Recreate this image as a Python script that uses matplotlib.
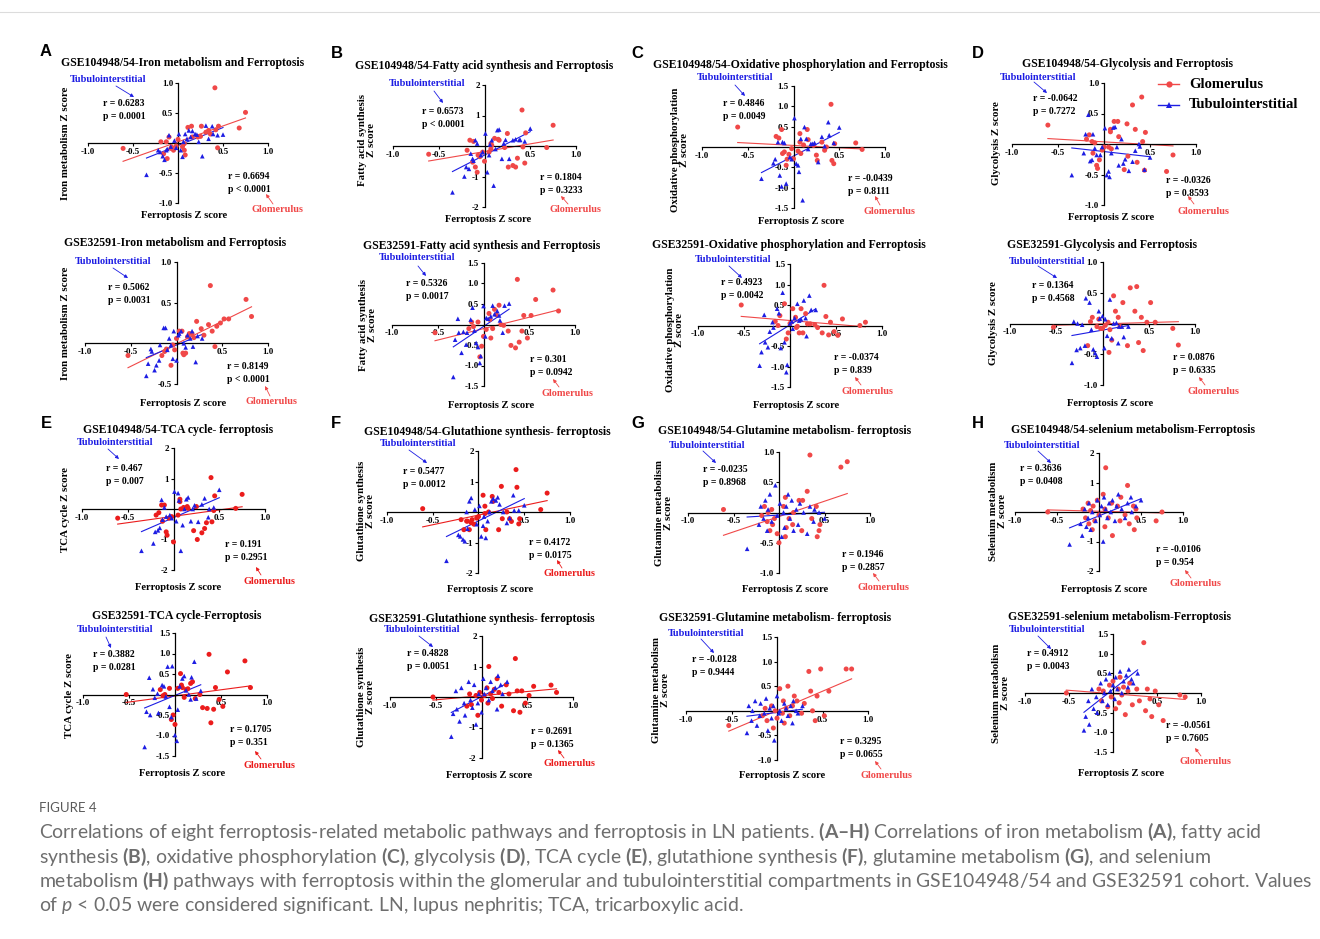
"""
Figure 4 - correlations of ferroptosis-related metabolic pathways with ferroptosis
(glomerulus vs tubulointerstitium, GSE104948/54 and GSE32591)
"""

import numpy as np
import matplotlib.pyplot as plt
from matplotlib.lines import Line2D
from matplotlib.patches import FancyArrowPatch

W, H = 1320, 939
SERIF = ['Liberation Serif', 'DejaVu Serif']
SANS = ['Liberation Sans', 'DejaVu Sans']
RED = '#f04848'
RED_VIVID = '#eb1c1c'
BLUE = '#1d1de3'

# Ferroptosis Z scores (x), shared by all pathways of one cohort / compartment
ferro_glom_104 = [-0.61, -0.19, -0.16, -0.13, -0.12, -0.10, -0.08, -0.07, -0.05, -0.02,
                  0.00, 0.05, 0.07, 0.07, 0.08, 0.11, 0.15, 0.16, 0.22, 0.25,
                  0.26, 0.31, 0.34, 0.36, 0.41, 0.42, 0.44, 0.45, 0.68, 0.75]
ferro_tub_104 = [-0.35, -0.22, -0.20, -0.17, -0.15, -0.13, -0.12, -0.10, -0.08, -0.04,
                 -0.02, 0.01, 0.03, 0.05, 0.06, 0.08, 0.10, 0.12, 0.14, 0.16,
                 0.19, 0.21, 0.23, 0.27, 0.31, 0.34, 0.38, 0.39, 0.44, 0.50]
ferro_glom_325 = [-0.53, -0.16, -0.13, -0.11, -0.06, -0.04, -0.02, 0.00, 0.03, 0.06,
                  0.07, 0.08, 0.10, 0.12, 0.14, 0.17, 0.19, 0.22, 0.27, 0.30,
                  0.35, 0.37, 0.39, 0.42, 0.44, 0.48, 0.52, 0.57, 0.76, 0.82]
ferro_tub_325 = [-0.33, -0.31, -0.28, -0.27, -0.24, -0.22, -0.19, -0.18, -0.14, -0.12,
                 -0.10, -0.08, -0.06, -0.04, -0.03, 0.00, 0.02, 0.03, 0.05, 0.08,
                 0.10, 0.12, 0.15, 0.17, 0.18, 0.21, 0.23, 0.28]

# Pathway Z scores (y)
iron_glom_104 = [-0.09, 0.02, -0.18, 0.02, -0.26, 0.10, -0.09, -0.07, -0.12, -0.05,
                 0.06, -0.06, -0.01, -0.12, -0.20, 0.26, 0.28, 0.10, 0.10, 0.11,
                 0.28, 0.18, 0.21, 0.15, 0.92, 0.22, -0.08, 0.28, 0.25, 0.51]
iron_tub_104 = [-0.53, -0.12, -0.15, -0.22, -0.28, -0.12, -0.10, 0.13, -0.06, 0.04,
                -0.08, 0.15, -0.12, -0.23, 0.02, 0.15, 0.07, 0.21, 0.10, 0.20,
                0.15, 0.14, 0.02, -0.22, 0.29, 0.07, 0.28, 0.15, 0.13, 0.14]
iron_glom_325 = [-0.15, -0.15, -0.10, -0.07, -0.27, -0.02, -0.08, 0.06, 0.15, 0.15,
                 -0.12, -0.14, -0.12, 0.08, 0.12, 0.12, 0.07, 0.27, 0.18, 0.10,
                 0.23, 0.71, 0.15, -0.04, 0.21, 0.25, 0.30, 0.30, 0.54, 0.33]
iron_tub_325 = [-0.40, -0.25, -0.07, -0.10, -0.33, -0.27, -0.21, -0.02, 0.19, 0.19,
                -0.08, 0.06, -0.02, -0.19, 0.15, -0.21, 0.10, 0.12, 0.15, 0.00,
                -0.05, 0.10, 0.06, 0.15, -0.04, -0.23, 0.09, 0.06]

fatty_glom_104 = [-0.27, -0.14, 0.19, -0.53, 0.15, -0.69, -0.86, -0.30, -0.35, -0.20,
                  -0.50, -0.20, 0.08, -0.10, 0.02, 0.25, 0.22, 0.19, -0.05, 0.41,
                  -0.69, -0.64, -0.69, -0.40, 1.18, -0.03, -0.56, 0.43, -0.05, 0.68]
fatty_tub_104 = [-1.52, -1.00, -0.69, -0.75, -0.25, -0.42, -0.48, 0.19, 0.08, -0.30,
                 -0.20, 0.41, -0.86, -0.30, 0.05, 0.19, -1.30, -0.10, 0.52, 0.54,
                 -0.42, 0.08, 0.20, -0.42, 0.19, 0.22, 0.20, 0.20, 0.15, 0.57]
fatty_glom_325 = [-0.20, -0.10, 0.06, -0.05, 0.06, -0.79, -0.53, -0.29, -0.12, 0.27,
                  0.12, -0.33, -0.10, 0.37, 0.24, 0.47, 0.00, -0.02, -0.16, -0.51,
                  -0.57, 1.10, -0.43, -0.16, 0.22, -0.33, 0.22, 0.61, 0.84, 0.33]
fatty_tub_325 = [-1.28, -0.37, 0.14, -0.20, -0.69, -0.18, -0.49, -0.20, 0.12, 0.41,
                 -0.15, -0.45, -0.55, -0.94, -0.77, 0.45, -0.29, 0.16, 0.14, 0.20,
                 0.46, 0.25, 0.33, 0.22, 0.10, -0.20, 0.46, 0.51]

oxphos_glom_104 = [0.49, 0.26, 0.22, 0.43, -0.16, -0.12, -0.45, -0.30, -0.18, -0.04,
                   -0.29, -0.10, 0.33, 0.12, -0.16, 0.05, 0.43, 0.18, 0.04, -0.20,
                   -0.33, 0.12, -0.08, 0.00, 1.05, -0.33, -0.41, 0.08, 0.10, -0.06]
oxphos_tub_104 = [-0.78, -0.40, -0.30, 0.12, -0.70, -0.97, 0.12, 0.10, -0.90, -0.25,
                  -0.30, 0.71, -0.41, -0.45, -0.61, 0.20, -1.31, 0.49, 0.20, -0.05,
                  0.08, 0.08, 0.10, -0.37, 0.25, 0.02, 0.61, 0.29, 0.10, 0.48]
oxphos_glom_325 = [0.50, 0.10, 0.00, 0.24, 0.53, -0.33, -0.18, 0.05, 0.41, 0.20,
                   -0.05, -0.02, -0.18, 0.41, -0.18, 0.29, 0.04, 0.04, 0.02, -0.05,
                   -0.18, 0.98, 0.22, -0.23, 0.08, -0.15, -0.24, 0.16, 0.00, 0.08]
oxphos_tub_325 = [-0.98, -0.65, 0.26, -0.41, -0.53, -0.15, 0.08, -0.05, 0.41, 0.30,
                  -0.55, 0.80, -0.41, -1.14, -0.96, 0.05, 0.10, -0.08, 0.18, 0.53,
                  0.12, 0.15, 0.61, 0.18, -0.26, 0.73, 0.38, 0.38]

glyco_glom_104 = [0.31, 0.08, 0.15, 0.04, -0.15, 0.02, -0.35, -0.40, -0.26, -0.10,
                  -0.05, -0.05, 0.24, 0.20, -0.08, 0.37, 0.37, 0.12, -0.42, 0.33,
                  -0.20, 0.64, 0.24, -0.30, 0.77, 0.04, -0.43, 0.19, -0.45, -0.18]
glyco_tub_104 = [-0.51, -0.15, 0.16, 0.48, -0.28, -0.26, 0.16, -0.07, -0.18, -0.18,
                 -0.05, 0.26, -0.51, -0.45, -0.54, -0.15, 0.27, 0.28, -0.05, -0.35,
                 0.08, -0.32, -0.25, -0.44, -0.29, -0.11, 0.00, -0.04, -0.42, -0.22]
glyco_glom_325 = [-0.06, -0.36, 0.03, 0.10, -0.05, 0.07, -0.08, -0.08, -0.03, 0.02,
                  -0.47, -0.10, -0.27, 0.45, 0.20, 0.10, -0.05, 0.34, -0.36, 0.58,
                  0.20, 0.60, -0.31, 0.10, -0.44, 0.02, 0.34, 0.02, -0.08, -0.35]
glyco_tub_325 = [-0.64, 0.03, -0.43, 0.00, -0.40, -0.02, -0.36, 0.41, 0.34, -0.10,
                 -0.42, -0.48, -0.54, 0.20, 0.08, 0.12, -0.40, 0.07, -0.20, 0.39,
                 -0.24, 0.00, 0.01, -0.32, -0.05, -0.05, -0.22, -0.05]

tca_glom_104 = [-0.30, -0.20, -0.12, 0.13, -0.40, 0.13, -0.75, -0.86, -0.30, -0.25,
                -1.08, -0.20, 0.24, 0.32, 0.00, 0.05, 0.08, 0.02, -0.71, 0.08,
                -1.00, -0.78, -0.64, -0.45, 1.03, -0.42, -0.05, 0.43, 0.02, 0.48]
tca_tub_104 = [-1.37, -1.13, -0.75, -0.70, -0.62, 0.30, -0.35, 0.05, -0.25, -0.20,
               -0.30, 0.57, -0.40, 0.52, 0.28, -1.37, -0.53, 0.00, 0.32, 0.38,
               -0.40, 0.00, 0.12, -0.42, 0.15, 0.35, -0.27, 0.00, 0.05, 0.63]
tca_glom_325 = [0.00, 0.12, -0.03, 0.00, 0.15, -0.61, -0.50, -0.73, 0.15, 0.51,
                0.23, 0.17, -0.07, 0.12, 0.14, 0.27, 0.31, -0.10, 0.00, -0.32,
                -0.34, 0.98, -0.69, -0.36, 0.17, -0.12, -0.29, 0.55, 0.82, 0.17]
tca_tub_325 = [-1.28, -0.42, 0.41, -0.50, 0.13, -0.08, 0.02, -0.45, 0.23, 0.20,
               -0.05, 0.68, -0.30, -0.55, 0.69, -0.99, -1.13, -0.37, 0.20, 0.39,
               0.45, 0.10, 0.00, -0.12, 0.42, 0.80, -0.10, 0.09]

gsh_glom_104 = [0.11, -0.25, -0.58, -0.30, -0.30, -0.58, -0.35, -0.25, -0.40, -0.20,
                -0.15, 0.55, -0.05, 0.19, -0.58, 0.00, 0.51, 0.35, -0.58, 0.84,
                -0.22, 0.00, -0.22, -0.31, 1.39, 0.81, -0.39, -0.22, 0.08, 0.62]
gsh_tub_104 = [-1.60, -0.75, -0.80, -0.90, -0.96, 0.00, -0.55, 0.35, 0.46, 0.08,
               -0.40, 0.20, -0.80, -0.45, -0.15, -0.85, -0.30, 0.00, 0.35, 0.44,
               0.38, 0.48, 0.25, 0.00, -0.36, -0.20, 0.55, 0.05, 0.05, 0.22]
gsh_glom_325 = [0.00, -0.30, 0.10, -0.25, 0.05, -0.60, 0.15, -0.10, 0.05, 0.30,
                -0.20, 1.00, 0.10, -0.05, 0.25, 0.60, 0.15, -0.30, 0.40, 0.10,
                -0.45, 1.26, 0.20, -0.50, 0.20, -0.20, 0.05, 0.35, 0.39, 0.15]
gsh_tub_325 = [-1.30, -0.55, 0.20, -0.40, -0.80, 0.30, -0.20, -0.60, 0.50, -0.10,
               -0.35, 0.40, -0.90, -0.20, 0.10, -0.50, 0.60, 0.10, 0.30, -0.10,
               0.50, 0.20, 0.30, -0.40, 0.70, 0.40, 0.10, 0.50]

gln_glom_104 = [0.05, -0.05, 0.10, -0.15, 0.00, -0.30, 0.05, -0.20, -0.10, -0.35,
                -0.50, 0.10, -0.40, 0.25, -0.25, -0.10, -0.20, 0.00, 0.20, -0.30,
                0.20, 0.35, 0.95, -0.10, 0.10, -0.40, -0.30, -0.20, 0.75, 0.84]
gln_tub_104 = [-0.60, -0.20, 0.10, -0.10, 0.20, -0.30, 0.05, 0.30, -0.15, 0.45,
               -0.05, 0.15, -0.40, 0.00, -0.25, 0.10, 0.30, -0.10, 0.20, -0.30,
               0.05, -0.20, 0.15, 0.00, -0.35, 0.10, -0.15, 0.05, 0.00, -0.10]
gln_glom_325 = [-0.30, -0.10, 0.05, -0.20, 0.10, -0.35, 0.00, -0.15, 0.45, -0.05,
                0.20, -0.25, 0.05, 0.50, -0.10, 0.10, 0.30, 0.20, -0.05, 0.15,
                0.80, 0.40, 0.00, -0.20, 0.30, 0.85, -0.10, 0.40, 0.85, 0.85]
gln_tub_325 = [-0.45, 0.10, -0.20, 0.00, 0.20, -0.30, -0.10, 0.15, -0.05, 0.25,
               -0.40, 0.05, -0.15, 0.10, -0.60, 0.30, -0.05, 0.00, -0.20, 0.15,
               0.05, -0.10, 0.10, -0.25, 0.20, 0.00, -0.05, 0.10]

sel_glom_104 = [0.00, 0.10, -0.20, 0.30, -0.40, 0.05, -0.60, 0.20, -0.30, 0.40,
                -0.10, 0.60, -0.50, 0.10, 1.50, -0.20, 0.30, -0.80, 0.20, -0.30,
                0.50, -0.10, 0.90, -0.40, 0.20, -0.60, 0.10, -0.20, -0.30, 0.00]
sel_tub_104 = [-1.10, -0.40, -0.80, 0.10, -0.50, -0.20, 0.30, -0.60, 0.00, -0.30,
               0.40, -0.10, 0.20, -1.00, 0.50, 0.10, -0.20, 0.30, 0.00, 0.40,
               -0.30, 0.20, 0.60, 0.10, -0.20, 0.30, 0.50, 0.00, 0.20, 0.40]
sel_glom_325 = [0.00, 0.10, -0.20, 0.05, -0.35, 0.20, -0.10, 0.30, -0.40, 0.10,
                -0.25, 0.40, -0.05, 0.15, -0.55, 0.05, 0.25, -0.30, 0.10, -0.20,
                1.28, -0.45, 0.10, -0.15, -0.60, 0.05, -0.30, -0.70, -0.05, -0.10]
sel_tub_325 = [-0.95, -0.60, -0.20, -0.80, 0.10, -0.40, -0.10, -0.50, 0.25, -0.20,
               0.00, 0.35, -0.30, 0.50, 0.05, 0.20, -0.15, 0.40, 0.10, 0.55,
               0.00, 0.30, 0.45, 0.15, 0.60, 0.35, 0.25, 0.50]

# Reported statistics (tubulointerstitial, glomerulus)
stats_tub = ['r = 0.6283\np = 0.0001', 'r = 0.5062\np = 0.0031',
             'r = 0.6573\np < 0.0001', 'r = 0.5326\np = 0.0017',
             'r = 0.4846\np = 0.0049', 'r = 0.4923\np = 0.0042',
             'r = -0.0642\np = 0.7272', 'r = 0.1364\np = 0.4568',
             'r = 0.467\np = 0.007', 'r = 0.3882\np = 0.0281',
             'r = 0.5477\np = 0.0012', 'r = 0.4828\np = 0.0051',
             'r = -0.0235\np = 0.8968', 'r = -0.0128\np = 0.9444',
             'r = 0.3636\np = 0.0408', 'r = 0.4912\np = 0.0043']
stats_glom = ['r = 0.6694\np < 0.0001', 'r = 0.8149\np < 0.0001',
              'r = 0.1804\np = 0.3233', 'r = 0.301\np = 0.0942',
              'r = -0.0439\np = 0.8111', 'r = -0.0374\np = 0.839',
              'r = -0.0326\np = 0.8593', 'r = 0.0876\np = 0.6335',
              'r = 0.191\np = 0.2951', 'r = 0.1705\np = 0.351',
              'r = 0.4172\np = 0.0175', 'r = 0.2691\np = 0.1365',
              'r = 0.1946\np = 0.2857', 'r = 0.3295\np = 0.0655',
              'r = -0.0106\np = 0.954', 'r = -0.0561\np = 0.7605']

titles = ['GSE104948/54-Iron metabolism and Ferroptosis', 'GSE32591-Iron metabolism and Ferroptosis',
          'GSE104948/54-Fatty acid synthesis and Ferroptosis', 'GSE32591-Fatty acid synthesis and Ferroptosis',
          'GSE104948/54-Oxidative phosphorylation and Ferroptosis', 'GSE32591-Oxidative phosphorylation and Ferroptosis',
          'GSE104948/54-Glycolysis and Ferroptosis', 'GSE32591-Glycolysis and Ferroptosis',
          'GSE104948/54-TCA cycle- ferroptosis', 'GSE32591-TCA cycle-Ferroptosis',
          'GSE104948/54-Glutathione synthesis- ferroptosis', 'GSE32591-Glutathione synthesis- ferroptosis',
          'GSE104948/54-Glutamine metabolism- ferroptosis', 'GSE32591-Glutamine metabolism- ferroptosis',
          'GSE104948/54-selenium metabolism-Ferroptosis', 'GSE32591-selenium metabolism-Ferroptosis']
ylabels = ['Iron metabolism Z score', 'Iron metabolism Z score',
           'Fatty acid synthesis\nZ score', 'Fatty acid synthesis\nZ score',
           'Oxidative phosphorylation\nZ score', 'Oxidative phosphorylation\nZ score',
           'Glycolysis Z score', 'Glycolysis Z score',
           'TCA cycle Z score', 'TCA cycle Z score',
           'Glutathione synthesis\nZ score', 'Glutathione synthesis\nZ score',
           'Glutamine metabolism\nZ score', 'Glutamine metabolism\nZ score',
           'Selenium metabolism\nZ score', 'Selenium metabolism\nZ score']
y_ticks = [[1.0, 0.5, -0.5, -1.0], [1.0, 0.5, -0.5],
           [2, 1, -1, -2], [1.5, 1.0, 0.5, -0.5, -1.0, -1.5],
           [1.5, 1.0, 0.5, -0.5, -1.0, -1.5], [1.5, 1.0, 0.5, -0.5, -1.0, -1.5],
           [1.0, 0.5, -0.5, -1.0], [1.0, 0.5, -0.5, -1.0],
           [2, 1, -1, -2], [1.5, 1.0, 0.5, -0.5, -1.0, -1.5],
           [2, 1, -1, -2], [2, 1, -1, -2],
           [1.0, 0.5, -0.5, -1.0], [1.5, 1.0, 0.5, -0.5, -1.0],
           [2, 1, -1, -2], [1.5, 1.0, 0.5, -0.5, -1.0, -1.5]]
y_lims = [(-1, 1), (-0.5, 1.0), (-2, 2), (-1.5, 1.5), (-1.5, 1.5), (-1.5, 1.5),
          (-1, 1), (-1, 1), (-2, 2), (-1.5, 1.5), (-2, 2), (-2, 2),
          (-1, 1), (-1, 1.5), (-2, 2), (-1.5, 1.5)]
x_ticks = [-1.0, -0.5, 0.5, 1.0]
x_ticklabels = ['-1.0', '-0.5', '0.5', '1.0']

series = [
    (ferro_glom_104, iron_glom_104, ferro_tub_104, iron_tub_104),
    (ferro_glom_325, iron_glom_325, ferro_tub_325, iron_tub_325),
    (ferro_glom_104, fatty_glom_104, ferro_tub_104, fatty_tub_104),
    (ferro_glom_325, fatty_glom_325, ferro_tub_325, fatty_tub_325),
    (ferro_glom_104, oxphos_glom_104, ferro_tub_104, oxphos_tub_104),
    (ferro_glom_325, oxphos_glom_325, ferro_tub_325, oxphos_tub_325),
    (ferro_glom_104, glyco_glom_104, ferro_tub_104, glyco_tub_104),
    (ferro_glom_325, glyco_glom_325, ferro_tub_325, glyco_tub_325),
    (ferro_glom_104, tca_glom_104, ferro_tub_104, tca_tub_104),
    (ferro_glom_325, tca_glom_325, ferro_tub_325, tca_tub_325),
    (ferro_glom_104, gsh_glom_104, ferro_tub_104, gsh_tub_104),
    (ferro_glom_325, gsh_glom_325, ferro_tub_325, gsh_tub_325),
    (ferro_glom_104, gln_glom_104, ferro_tub_104, gln_tub_104),
    (ferro_glom_325, gln_glom_325, ferro_tub_325, gln_tub_325),
    (ferro_glom_104, sel_glom_104, ferro_tub_104, sel_tub_104),
    (ferro_glom_325, sel_glom_325, ferro_tub_325, sel_tub_325),
]

# Layout in reference pixels:
# box = (x at -1.0, x at 1.0, y at ymax, y at ymin)
LAYOUT = [
    dict(box=(88, 268, 83, 203), title=(183, 63), ylab=(65, 143), tub=(108, 80),
         tarr=((116, 86), (134, 97)), rt=(103, 103), rg=(228, 176), glom=(277, 210),
         garr=((273, 204), (266, 194)), xlab=(184, 216)),
    dict(box=(85, 268, 262, 384), title=(175, 243), ylab=(65, 323), tub=(113, 262),
         tarr=((113, 268), (128, 278)), rt=(108, 287), rg=(227, 366), glom=(272, 402),
         garr=((270, 396), (265, 386)), xlab=(183, 404)),
    dict(box=(393, 576, 85, 207), title=(484, 66), ylab=(367, 140), tub=(427, 84),
         tarr=((434, 91), (443, 103)), rt=(422, 111), rg=(540, 177), glom=(575, 210),
         garr=((568, 204), (561, 196)), xlab=(488, 220)),
    dict(box=(392, 575, 263, 386), title=(482, 246), ylab=(368, 325), tub=(417, 257),
         tarr=((418, 266), (426, 276)), rt=(406, 283), rg=(530, 359), glom=(567, 393),
         garr=((559, 387), (553, 379)), xlab=(491, 406)),
    dict(box=(702, 885, 86, 208), title=(800, 65), ylab=(680, 150), tub=(735, 78),
         tarr=((735, 85), (745, 96)), rt=(723, 103), rg=(848, 178), glom=(889, 212),
         garr=((880, 205), (875, 196)), xlab=(801, 222)),
    dict(box=(698, 882, 264, 387), title=(789, 245), ylab=(675, 330), tub=(733, 259),
         tarr=((729, 266), (742, 278)), rt=(721, 282), rg=(834, 357), glom=(868, 392),
         garr=((861, 385), (855, 377)), xlab=(796, 406)),
    dict(box=(1012, 1196, 83, 205), title=(1127, 64), ylab=(997, 143), tub=(1038, 77),
         tarr=((1034, 82), (1047, 93)), rt=(1033, 98), rg=(1166, 180), glom=(1203, 212),
         garr=((1194, 204), (1188, 196)), xlab=(1111, 218)),
    dict(box=(1010, 1195, 262, 385), title=(1102, 245), ylab=(993, 323), tub=(1047, 261),
         tarr=((1038, 266), (1057, 278)), rt=(1032, 285), rg=(1173, 357), glom=(1213, 391),
         garr=((1205, 385), (1199, 377)), xlab=(1110, 404)),
    dict(box=(82, 265, 448, 570), title=(178, 430), ylab=(66, 509), tub=(115, 442),
         tarr=((108, 449), (119, 459)), rt=(106, 468), rg=(225, 544), glom=(269, 582),
         garr=((261, 575), (256, 567)), xlab=(178, 588)),
    dict(box=(83, 267, 633, 756), title=(177, 616), ylab=(69, 695), tub=(115, 630),
         tarr=((106, 637), (111, 648)), rt=(93, 654), rg=(230, 729), glom=(269, 766),
         garr=((261, 759), (255, 751)), xlab=(182, 773)),
    dict(box=(387, 570, 451, 573), title=(487, 432), ylab=(366, 511), tub=(418, 444),
         tarr=((409, 450), (427, 463)), rt=(403, 471), rg=(529, 542), glom=(570, 574),
         garr=((562, 568), (557, 560)), xlab=(490, 590)),
    dict(box=(390, 573, 636, 758), title=(482, 619), ylab=(366, 697), tub=(422, 630),
         tarr=((419, 636), (433, 647)), rt=(407, 653), rg=(531, 731), glom=(570, 764),
         garr=((564, 758), (558, 750)), xlab=(489, 775)),
    dict(box=(688, 870, 452, 573), title=(785, 431), ylab=(664, 513), tub=(707, 446),
         tarr=((703, 451), (716, 463)), rt=(703, 469), rg=(842, 554), glom=(884, 587),
         garr=((879, 581), (873, 573)), xlab=(785, 589)),
    dict(box=(686, 868, 637, 760), title=(775, 618), ylab=(661, 690), tub=(706, 633),
         tarr=((701, 639), (714, 653)), rt=(692, 659), rg=(840, 741), glom=(886, 775),
         garr=((881, 769), (875, 761)), xlab=(782, 775)),
    dict(box=(1015, 1183, 453, 571), title=(1133, 430), ylab=(998, 511), tub=(1042, 446),
         tarr=((1038, 451), (1051, 463)), rt=(1020, 468), rg=(1156, 549), glom=(1196, 584),
         garr=((1191, 578), (1185, 570)), xlab=(1104, 589)),
    dict(box=(1025, 1201, 634, 752), title=(1120, 617), ylab=(1001, 693), tub=(1047, 630),
         tarr=((1038, 636), (1051, 649)), rt=(1027, 653), rg=(1166, 725), glom=(1206, 762),
         garr=((1201, 756), (1195, 748)), xlab=(1121, 774)),
]
LETTERS = {'A': (46, 52), 'B': (337, 53), 'C': (637, 53), 'D': (978, 53),
           'E': (46, 424), 'F': (336, 424), 'G': (638, 424), 'H': (978, 424)}


def fx(x):
    return x / W


def fy(y):
    return 1 - y / H


fig = plt.figure(figsize=(W / 100, H / 100), dpi=100)


def ftext(x, y, s, size, color='black', ha='center', **kw):
    return fig.text(fx(x), fy(y), s, fontsize=size, color=color, ha=ha, va='center',
                    fontfamily=SERIF, fontweight='bold', **kw)


def farrow(p0, p1, color):
    fig.add_artist(FancyArrowPatch((fx(p0[0]), fy(p0[1])), (fx(p1[0]), fy(p1[1])),
                                   transform=fig.transFigure, arrowstyle='-|>',
                                   mutation_scale=5, lw=0.6, color=color,
                                   shrinkA=0, shrinkB=0))


def fmt_tick(v):
    return f'{v:d}' if isinstance(v, int) else f'{v:.1f}'


for i, lay in enumerate(LAYOUT):
    gx, gy, tx, ty = [np.asarray(a, dtype=float) for a in series[i]]
    red = RED_VIVID if 8 <= i <= 11 else RED
    x0, x1, yt, yb = lay['box']
    ax = fig.add_axes([fx(x0), fy(yb), (x1 - x0) / W, (yb - yt) / H])
    ax.patch.set_alpha(0)
    ax.set_xlim(-1, 1)
    ax.set_ylim(*y_lims[i])
    for side in ('top', 'right'):
        ax.spines[side].set_visible(False)
    for side in ('left', 'bottom'):
        ax.spines[side].set_position(('data', 0))
        ax.spines[side].set_linewidth(0.9)
    ax.set_xticks(x_ticks)
    ax.set_xticklabels(x_ticklabels)
    ax.set_yticks(y_ticks[i])
    ax.set_yticklabels([fmt_tick(v) for v in y_ticks[i]])
    ax.tick_params(direction='out', length=2.5, width=0.8, labelsize=6.5, pad=1)
    for lab in ax.get_xticklabels() + ax.get_yticklabels():
        lab.set_fontfamily(SERIF)
        lab.set_fontweight('bold')

    ax.scatter(gx, gy, s=13, marker='o', color=red, edgecolors='none', clip_on=False, zorder=3)
    ax.scatter(tx, ty, s=11, marker='^', color=BLUE, edgecolors='none', clip_on=False, zorder=3)
    for xs, ys, c in ((gx, gy, red), (tx, ty, BLUE)):
        k, b = np.polyfit(xs, ys, 1)
        ends = np.array([xs.min(), xs.max()])
        ax.plot(ends, k * ends + b, color=c, lw=0.8, zorder=2)

    ftext(*lay['title'], titles[i], 8.5)
    ftext(*lay['ylab'], ylabels[i], 7.8, rotation=90, multialignment='center', linespacing=1.1)
    ftext(*lay['xlab'], 'Ferroptosis Z score', 7.6)
    ftext(*lay['tub'], 'Tubulointerstitial', 7.4, color=BLUE)
    farrow(*lay['tarr'], BLUE)
    ftext(lay['rt'][0], lay['rt'][1] + 7, stats_tub[i], 7, ha='left', linespacing=1.45)
    ftext(lay['rg'][0], lay['rg'][1] + 7, stats_glom[i], 7, ha='left', linespacing=1.45)
    ftext(*lay['glom'], 'Glomerulus', 7.4, color=red)
    farrow(*lay['garr'], red)

for letter, (lx, ly) in LETTERS.items():
    fig.text(fx(lx), fy(ly), letter, fontsize=12, fontweight='bold', fontfamily=SANS,
             ha='center', va='center')

# legend of panel D
for ly, c, m, label in ((84, RED, 'o', 'Glomerulus'), (105, BLUE, '^', 'Tubulointerstitial')):
    fig.add_artist(Line2D([fx(1158), fx(1179)], [fy(ly), fy(ly)], transform=fig.transFigure,
                          color=c, lw=1.0))
    fig.add_artist(Line2D([fx(1168.5)], [fy(ly)], transform=fig.transFigure, color=c,
                          marker=m, markersize=4.5, markeredgewidth=0))
    ftext(1189, ly, label, 10.5, ha='left')

# top rule
fig.add_artist(Line2D([0, 1], [fy(12), fy(12)], transform=fig.transFigure, color='#dcdcdc', lw=0.8))

# caption
plt.rcParams['mathtext.fontset'] = 'custom'
plt.rcParams['mathtext.rm'] = 'Lato'
plt.rcParams['mathtext.bf'] = 'Lato:bold'
plt.rcParams['mathtext.it'] = 'Lato:italic'
CAP = '#6e6e6e'
fig.text(fx(39), fy(808), 'FIGURE 4', fontsize=9.5, color='#5a5a5a', fontfamily='Lato',
         ha='left', va='center')
caption = [
    r'Correlations of eight ferroptosis-related metabolic pathways and ferroptosis in LN patients. '
    r'$\mathbf{(A–H)}$ Correlations of iron metabolism $\mathbf{(A)}$, fatty acid',
    r'synthesis $\mathbf{(B)}$, oxidative phosphorylation $\mathbf{(C)}$, glycolysis $\mathbf{(D)}$, '
    r'TCA cycle $\mathbf{(E)}$, glutathione synthesis $\mathbf{(F)}$, glutamine metabolism $\mathbf{(G)}$, and selenium',
    r'metabolism $\mathbf{(H)}$ pathways with ferroptosis within the glomerular and tubulointerstitial '
    r'compartments in GSE104948/54 and GSE32591 cohort. Values',
    r'of $\mathit{p}$ < 0.05 were considered significant. LN, lupus nephritis; TCA, tricarboxylic acid.',
]
renderer = fig.canvas.get_renderer()
probe = fig.text(0, 0, caption[0], fontsize=12, fontfamily='Lato')
cap_size = 12 * 1219 / probe.get_window_extent(renderer).width
probe.remove()
for j, line in enumerate(caption):
    fig.text(fx(39), fy(832 + 24.5 * j), line, fontsize=cap_size, color=CAP,
             fontfamily='Lato', ha='left', va='center')

fig.savefig('out.png', dpi=100)
